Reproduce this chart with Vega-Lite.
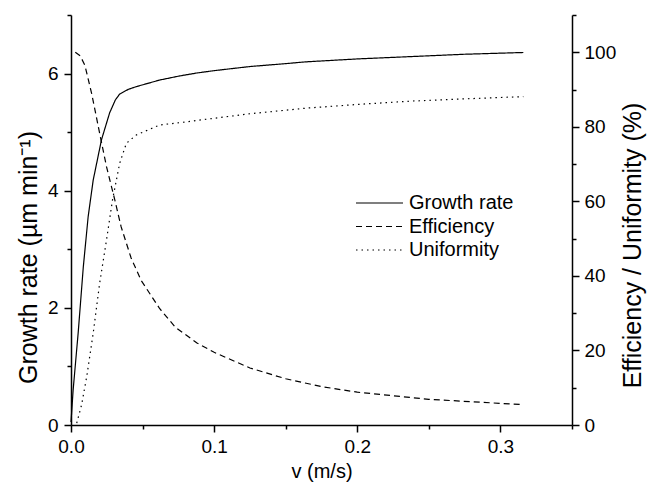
{
  "$schema": "https://vega.github.io/schema/vega-lite/v6.json",
  "width": 501,
  "height": 410,
  "autosize": {"type": "none"},
  "padding": {"left": 71, "top": 15, "right": 76, "bottom": 59},
  "background": "white",
  "config": {
    "view": {"stroke": null},
    "font": "Liberation Sans",
    "axis": {
      "domainColor": "black", "tickColor": "black", "labelColor": "black", "titleColor": "black",
      "grid": false, "labelFont": "Liberation Sans", "titleFont": "Liberation Sans",
      "titleFontWeight": "normal", "labelFontSize": 19, "titleFontSize": 20,
      "tickSize": 7, "domainWidth": 1.5, "tickWidth": 1.5, "labelPadding": 5, "labelFlush": false
    }
  },
  "datasets": {
    "growth": [
      {"v": 0.0, "y": 0.05, "s": "Growth rate"},
      {"v": 0.0015, "y": 0.6, "s": "Growth rate"},
      {"v": 0.005, "y": 1.57, "s": "Growth rate"},
      {"v": 0.0086, "y": 2.7, "s": "Growth rate"},
      {"v": 0.012, "y": 3.56, "s": "Growth rate"},
      {"v": 0.0155, "y": 4.18, "s": "Growth rate"},
      {"v": 0.0213, "y": 4.87, "s": "Growth rate"},
      {"v": 0.027, "y": 5.33, "s": "Growth rate"},
      {"v": 0.031, "y": 5.55, "s": "Growth rate"},
      {"v": 0.034, "y": 5.65, "s": "Growth rate"},
      {"v": 0.04, "y": 5.73, "s": "Growth rate"},
      {"v": 0.046, "y": 5.78, "s": "Growth rate"},
      {"v": 0.062, "y": 5.89, "s": "Growth rate"},
      {"v": 0.076, "y": 5.96, "s": "Growth rate"},
      {"v": 0.088, "y": 6.01, "s": "Growth rate"},
      {"v": 0.1, "y": 6.05, "s": "Growth rate"},
      {"v": 0.125, "y": 6.12, "s": "Growth rate"},
      {"v": 0.15, "y": 6.17, "s": "Growth rate"},
      {"v": 0.164, "y": 6.2, "s": "Growth rate"},
      {"v": 0.2, "y": 6.25, "s": "Growth rate"},
      {"v": 0.2375, "y": 6.29, "s": "Growth rate"},
      {"v": 0.275, "y": 6.33, "s": "Growth rate"},
      {"v": 0.316, "y": 6.36, "s": "Growth rate"}
    ],
    "eu": [
      {"v": 0.003, "y": 100, "s": "Efficiency"},
      {"v": 0.0065, "y": 99, "s": "Efficiency"},
      {"v": 0.0097, "y": 96.5, "s": "Efficiency"},
      {"v": 0.0144, "y": 89, "s": "Efficiency"},
      {"v": 0.02, "y": 78.3, "s": "Efficiency"},
      {"v": 0.0248, "y": 69.3, "s": "Efficiency"},
      {"v": 0.0306, "y": 60.4, "s": "Efficiency"},
      {"v": 0.035, "y": 53.2, "s": "Efficiency"},
      {"v": 0.042, "y": 44.8, "s": "Efficiency"},
      {"v": 0.049, "y": 38.8, "s": "Efficiency"},
      {"v": 0.062, "y": 31.2, "s": "Efficiency"},
      {"v": 0.073, "y": 26.2, "s": "Efficiency"},
      {"v": 0.088, "y": 22, "s": "Efficiency"},
      {"v": 0.1, "y": 19.5, "s": "Efficiency"},
      {"v": 0.125, "y": 15.3, "s": "Efficiency"},
      {"v": 0.15, "y": 12.4, "s": "Efficiency"},
      {"v": 0.175, "y": 10.3, "s": "Efficiency"},
      {"v": 0.2, "y": 8.8, "s": "Efficiency"},
      {"v": 0.25, "y": 6.9, "s": "Efficiency"},
      {"v": 0.3, "y": 5.8, "s": "Efficiency"},
      {"v": 0.316, "y": 5.5, "s": "Efficiency"},
      {"v": 0.004, "y": 0.5, "s": "Uniformity"},
      {"v": 0.0074, "y": 5.4, "s": "Uniformity"},
      {"v": 0.011, "y": 13, "s": "Uniformity"},
      {"v": 0.0155, "y": 24.6, "s": "Uniformity"},
      {"v": 0.02, "y": 38, "s": "Uniformity"},
      {"v": 0.0248, "y": 49.6, "s": "Uniformity"},
      {"v": 0.029, "y": 60.4, "s": "Uniformity"},
      {"v": 0.034, "y": 70.2, "s": "Uniformity"},
      {"v": 0.0387, "y": 75.6, "s": "Uniformity"},
      {"v": 0.0456, "y": 77.8, "s": "Uniformity"},
      {"v": 0.062, "y": 80.5, "s": "Uniformity"},
      {"v": 0.0757, "y": 81.1, "s": "Uniformity"},
      {"v": 0.1, "y": 82.3, "s": "Uniformity"},
      {"v": 0.125, "y": 83.5, "s": "Uniformity"},
      {"v": 0.164, "y": 85, "s": "Uniformity"},
      {"v": 0.2, "y": 86, "s": "Uniformity"},
      {"v": 0.2375, "y": 86.9, "s": "Uniformity"},
      {"v": 0.275, "y": 87.5, "s": "Uniformity"},
      {"v": 0.316, "y": 88.1, "s": "Uniformity"}
    ]
  },
  "layer": [
    {
      "data": {"name": "growth"},
      "mark": {"type": "line", "color": "black", "strokeWidth": 1.2},
      "encoding": {
        "x": {
          "field": "v", "type": "quantitative",
          "scale": {"domain": [0, 0.35], "nice": false, "zero": false},
          "axis": {
            "values": [0, 0.05, 0.1, 0.15, 0.2, 0.25, 0.3, 0.35],
            "format": ".1f",
            "labelExpr": "round(datum.value * 100) % 10 == 0 ? datum.label : ''",
            "tickSize": {"condition": {"test": "round(datum.value * 100) % 10 == 0", "value": 7}, "value": 4},
            "title": "v (m/s)", "titleBaseline": "middle", "titleY": 46
          }
        },
        "y": {
          "field": "y", "type": "quantitative",
          "scale": {"domain": [0, 7], "nice": false},
          "axis": {
            "orient": "left",
            "values": [0, 1, 2, 3, 4, 5, 6, 7],
            "labelExpr": "datum.value % 2 == 0 ? datum.label : ''",
            "tickSize": {"condition": {"test": "datum.value % 2 == 0", "value": 7}, "value": 4},
            "title": "Growth rate (µm min⁻¹)", "titleFontSize": 25,
            "titleAngle": 270, "titleBaseline": "middle", "titleAlign": "center",
            "titleX": -43, "titleY": 242, "labelPadding": 6
          }
        },
        "strokeDash": {
          "field": "s", "type": "nominal",
          "scale": {
            "domain": ["Growth rate", "Efficiency", "Uniformity"],
            "range": [[1, 0], [6, 4], [1.5, 4]]
          },
          "legend": {
            "orient": "none", "legendX": 284, "legendY": 177, "title": null,
            "symbolType": "stroke", "symbolSize": 2209, "symbolStrokeWidth": 1.2,
            "symbolStrokeColor": "black", "labelFontSize": 20, "labelFont": "Liberation Sans",
            "labelColor": "black", "labelOffset": 5, "clipHeight": 22, "rowPadding": 1.5,
            "padding": 0
          }
        }
      }
    },
    {
      "data": {"name": "eu"},
      "mark": {"type": "line", "color": "black", "strokeWidth": 1.2},
      "encoding": {
        "x": {"field": "v", "type": "quantitative"},
        "y": {
          "field": "y", "type": "quantitative",
          "scale": {"domain": [0, 110], "nice": false},
          "axis": {
            "orient": "right",
            "values": [0, 10, 20, 30, 40, 50, 60, 70, 80, 90, 100, 110],
            "labelExpr": "datum.value % 20 == 0 && datum.value <= 100 ? datum.label : ''",
            "tickSize": {"condition": {"test": "datum.value % 20 == 0 && datum.value <= 100", "value": 7}, "value": 4},
            "title": "Efficiency / Uniformity (%)", "titleFontSize": 25,
            "titleAngle": 270, "titleBaseline": "middle", "titleAlign": "center",
            "titleX": 60, "titleY": 230
          }
        },
        "strokeDash": {"field": "s", "type": "nominal"}
      }
    }
  ],
  "resolve": {"scale": {"y": "independent"}}
}
